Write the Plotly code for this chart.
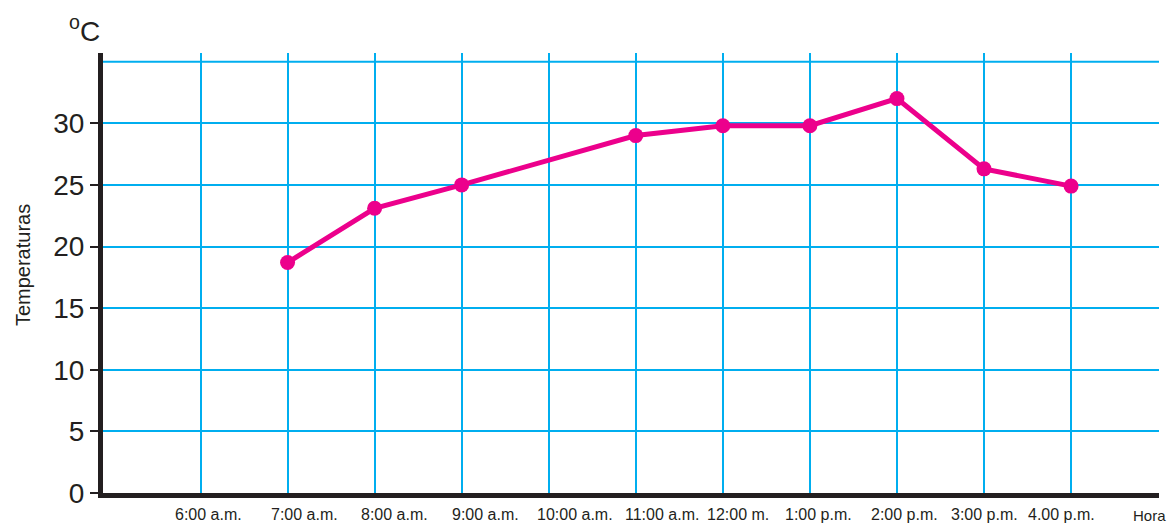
import plotly.graph_objects as go

# Hourly readings
horas = ["6:00 a.m.", "7:00 a.m.", "8:00 a.m.", "9:00 a.m.", "10:00 a.m.",
         "11:00 a.m.", "12:00 m.", "1:00 p.m.", "2:00 p.m.", "3:00 p.m.", "4.00 p.m."]
temperaturas = [None, 18.7, 23.1, 25.0, None, 29.0, 29.8, 29.8, 32.0, 26.3, 24.9]
y_ticks = [0, 5, 10, 15, 20, 25, 30]

# horizontal nudges (px) for the hour labels under the grid
label_shift = [8, 17, 20, 24, 26, 26, 15, 9, 8, 0, -10]

FONT = "Liberation Sans, Arial, sans-serif"
INK = "#231f20"
GRID = "#00aeef"
LINE = "#ec008c"

idx = list(range(len(horas)))

fig = go.Figure()
fig.add_trace(go.Scatter(
    x=idx, y=temperaturas, mode="lines+markers", connectgaps=True,
    line=dict(color=LINE, width=5),
    marker=dict(color=LINE, size=15),
    hoverinfo="skip", showlegend=False,
))

fig.update_layout(
    width=1168, height=523,
    margin=dict(l=103, r=9, t=53, b=30),
    paper_bgcolor="white", plot_bgcolor="white",
    font=dict(family=FONT, color=INK),
    xaxis=dict(
        range=[-1.12, 11.01],
        tickvals=idx + [len(idx)], showticklabels=False,
        showgrid=True, gridcolor=GRID, gridwidth=2,
        showline=True, linecolor=INK, linewidth=5,
        ticks="", zeroline=False,
    ),
    yaxis=dict(
        range=[0, 35.7],
        tickvals=y_ticks, ticktext=[str(v) for v in y_ticks],
        tickfont=dict(size=28, family=FONT, color=INK),
        showgrid=True, gridcolor=GRID, gridwidth=2,
        showline=True, linecolor=INK, linewidth=5,
        ticks="outside", ticklen=8, tickwidth=2, tickcolor=INK,
        zeroline=False,
    ),
)

# top grid line at 35
fig.add_shape(type="line", xref="paper", yref="y", x0=0, x1=1, y0=35, y1=35,
              line=dict(color=GRID, width=2), layer="below")

# hour labels
for i, (h, s) in enumerate(zip(horas, label_shift)):
    fig.add_annotation(x=i, y=0, xref="x", yref="paper", text=h, showarrow=False,
                       xanchor="center", yanchor="middle", xshift=s, yshift=-21,
                       font=dict(size=16, family=FONT, color=INK))

fig.add_annotation(x=1, y=0, xref="paper", yref="paper", text="Hora", showarrow=False,
                   xanchor="center", yanchor="middle", xshift=-10, yshift=-22,
                   font=dict(size=15, family=FONT, color=INK))

fig.add_annotation(x=0, y=0.518, xref="paper", yref="paper", text="Temperaturas",
                   showarrow=False, textangle=-90, xanchor="center", yanchor="middle",
                   xshift=-80, font=dict(size=20, family=FONT, color=INK))

fig.add_annotation(x=0, y=1, xref="paper", yref="paper", text="<sup>o</sup>C",
                   showarrow=False, xanchor="center", yanchor="middle",
                   xshift=-19, yshift=24, font=dict(size=28, family=FONT, color=INK))

fig.write_html("out.html")
